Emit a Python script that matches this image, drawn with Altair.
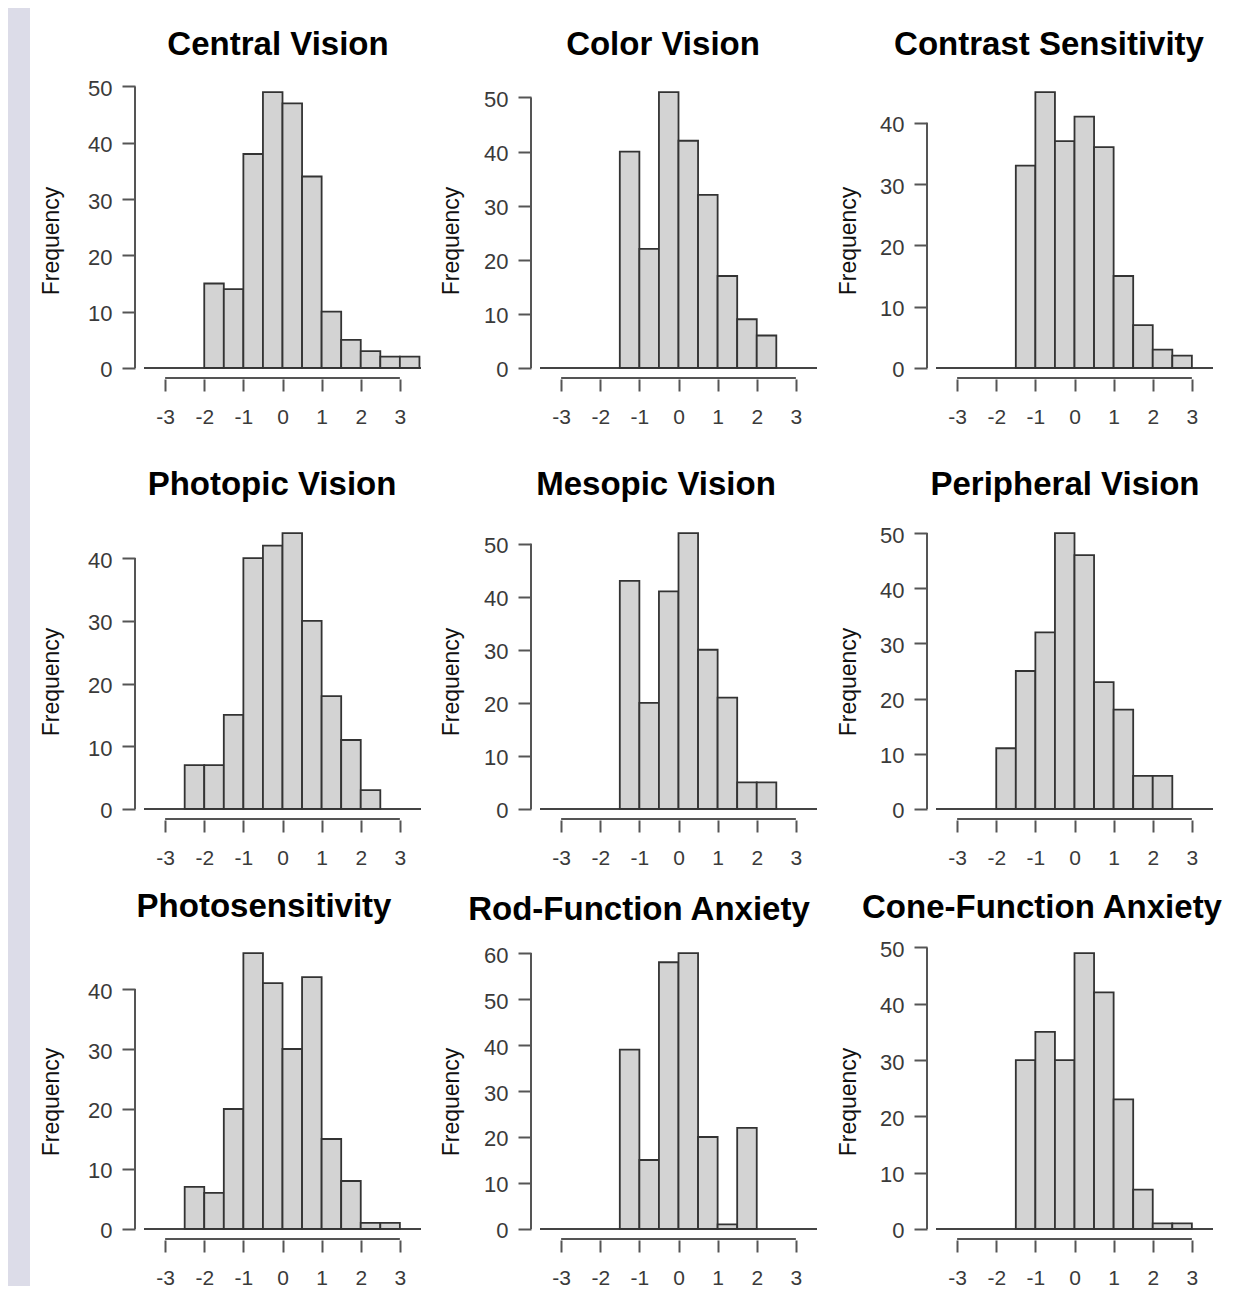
import altair as alt
import pandas as pd

# ---- data ----
titles = ["Central Vision", "Color Vision", "Contrast Sensitivity",
          "Photopic Vision", "Mesopic Vision", "Peripheral Vision",
          "Photosensitivity", "Rod-Function Anxiety", "Cone-Function Anxiety"]
bin_width = 0.5
first_bin = [-2.0, -1.5, -1.5, -2.5, -1.5, -2.0, -2.5, -1.5, -1.5]

central_vision = [15, 14, 38, 49, 47, 34, 10, 5, 3, 2, 2]
color_vision = [40, 22, 51, 42, 32, 17, 9, 6]
contrast_sensitivity = [33, 45, 37, 41, 36, 15, 7, 3, 2]
photopic_vision = [7, 7, 15, 40, 42, 44, 30, 18, 11, 3]
mesopic_vision = [43, 20, 41, 52, 30, 21, 5, 5]
peripheral_vision = [11, 25, 32, 50, 46, 23, 18, 6, 6]
photosensitivity = [7, 6, 20, 46, 41, 30, 42, 15, 8, 1, 1]
rod_function_anxiety = [39, 15, 58, 60, 20, 1, 22]
cone_function_anxiety = [30, 35, 30, 49, 42, 23, 7, 1, 1]

all_counts = [central_vision, color_vision, contrast_sensitivity,
              photopic_vision, mesopic_vision, peripheral_vision,
              photosensitivity, rod_function_anxiety, cone_function_anxiety]

x_ticks = [-3, -2, -1, 0, 1, 2, 3]

# ---- layout / style ----
W, H = 277, 298
EXTRA = [0, 21, 0]          # extra (empty) space added on top of each row's plot
FONT = "Liberation Sans, Arial, Helvetica, sans-serif"
AXIS_COLOR = "#555555"
LABEL_COLOR = "#3a3a3a"
BAR_FILL = "#d3d3d3"
BAR_STROKE = "#333333"
LAVENDER = "#dcdce8"

title_x = [134, 123, 113, 128, 116, 129, 120, 99, 106]
title_y = [-26, -26, -26, -27, -27, -27, -25, -22, -24]
freq_x = [-92, -88, -87]


def panel(i):
    row = i // 3
    extra = EXTRA[row]
    counts = all_counts[i]
    m = max(counts)
    starts = [first_bin[i] + bin_width * k for k in range(len(counts))]
    ends = [s + bin_width for s in starts]
    df = pd.DataFrame({"start": starts, "end": ends, "count": counts,
                       "base": [0] * len(counts)})
    ytop = 1.04 * m
    yticks = [v for v in range(0, 100, 10) if v <= ytop]
    units_per_px = 1.08 * m / H
    xscale = alt.Scale(domain=[-3.54, 3.54], nice=False, zero=False)
    yscale = alt.Scale(domain=[-0.04 * m, ytop + extra * units_per_px],
                       nice=False, zero=False)

    xaxis = alt.Axis(
        values=x_ticks, domain=False, grid=False, title=None,
        tickSize=12, tickWidth=2, tickColor=AXIS_COLOR,
        labelFont=FONT, labelFontSize=21, labelColor=LABEL_COLOR,
        labelPadding=15, labelExpr="'' + datum.value")
    yaxis = alt.Axis(
        values=yticks, domain=False, grid=False, title=None, offset=9,
        tickSize=13, tickWidth=2, tickColor=AXIS_COLOR,
        labelFont=FONT, labelFontSize=22, labelColor=LABEL_COLOR,
        labelPadding=10, labelOffset=2, labelExpr="'' + datum.value")

    baseline = alt.Chart(alt.Data(values=[{"x0": -3.54, "x1": 3.54, "y": 0}])).mark_rule(
        color="#444444", strokeWidth=2
    ).encode(
        x=alt.X("x0:Q", scale=xscale, axis=xaxis), x2="x1:Q",
        y=alt.Y("y:Q", scale=yscale, axis=yaxis),
    )

    bars = alt.Chart(df).mark_rect(
        fill=BAR_FILL, stroke=BAR_STROKE, strokeWidth=1.8
    ).encode(
        x=alt.X("start:Q", scale=xscale, axis=xaxis), x2="end:Q",
        y=alt.Y("base:Q", scale=yscale, axis=yaxis), y2="count:Q",
    )

    yline = alt.Chart(alt.Data(values=[{"y0": 0, "y1": yticks[-1]}])).mark_rule(
        color=AXIS_COLOR, strokeWidth=2
    ).encode(
        x=alt.value(-9),
        y=alt.Y("y0:Q", scale=yscale, axis=yaxis), y2="y1:Q",
    )

    xline = alt.Chart(alt.Data(values=[{"x0": x_ticks[0], "x1": x_ticks[-1]}])).mark_rule(
        color=AXIS_COLOR, strokeWidth=2
    ).encode(
        x=alt.X("x0:Q", scale=xscale, axis=xaxis), x2="x1:Q",
        y=alt.value(H + extra - 1),
    )

    title = alt.Chart(alt.Data(values=[{"t": titles[i]}])).mark_text(
        font=FONT, fontSize=33, fontWeight="bold", color="#000000",
        align="center", baseline="alphabetic"
    ).encode(x=alt.value(title_x[i]), y=alt.value(title_y[i] + extra), text="t:N")

    freq = alt.Chart(alt.Data(values=[{"t": "Frequency"}])).mark_text(
        font=FONT, fontSize=23, color="#111111", angle=270,
        align="center", baseline="middle"
    ).encode(x=alt.value(freq_x[i % 3]), y=alt.value(160 + extra), text="t:N")

    return alt.layer(baseline, bars, yline, xline, title, freq).properties(
        width=W, height=H + extra)


panels = [panel(i) for i in range(9)]
grid = alt.concat(*panels, columns=3, spacing={"row": 122, "column": 119},
                  bounds="flush")

strip = alt.Chart(alt.Data(values=[{"a": 1}])).mark_rect(color=LAVENDER).encode(
    x=alt.value(0), x2=alt.value(22), y=alt.value(-73), y2=alt.value(1205)
).properties(width=136, height=H)

chart = alt.hconcat(strip, grid, spacing=0, bounds="flush").properties(
    padding=0
).configure(
    background="#ffffff",
    view=alt.ViewConfig(stroke="transparent", strokeWidth=0),
)

chart.save("out.html", embed_options={"renderer": "svg", "actions": False})
